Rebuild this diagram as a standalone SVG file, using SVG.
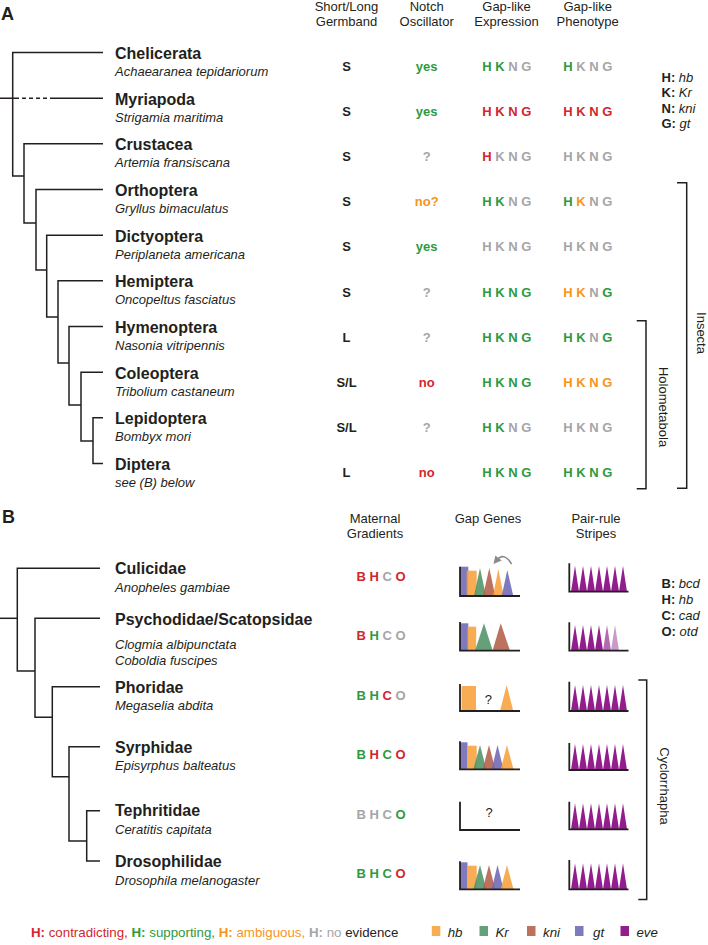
<svg xmlns="http://www.w3.org/2000/svg" width="708" height="945" viewBox="0 0 708 945">
<defs>
<style>
text{font-family:"Liberation Sans",Arial,sans-serif;fill:#231f20}
.lab{font-size:18px;font-weight:bold}
.name{font-size:16px;font-weight:bold}
.sp{font-size:13px;font-style:italic}
.hdr{font-size:13px;text-anchor:middle}
.val{font-size:13px;font-weight:bold;text-anchor:middle}
.leg{font-size:13px}
.bl{font-size:13.3px}
.b{font-weight:bold}
.i{font-style:italic;font-weight:normal}
.g{fill:#2e9a3e}.r{fill:#d2262c}.o{fill:#f7941d}.n{fill:#a5a5a8}
.ln{stroke:#231f20;stroke-width:1.5;fill:none}
.ax{stroke:#231f20;stroke-width:1.8;fill:none}
.hb{fill:#f7a23c;fill-opacity:.88}
.kr{fill:#4f9366;fill-opacity:.88}
.kni{fill:#b25e48;fill-opacity:.88}
.gt{fill:#6c68b4;fill-opacity:.88}
.eve{fill:#921e8e}
.eve2{fill:#b46ab2}
.eve3{fill:#c99bc8}
</style>
<marker id="ah" viewBox="0 0 10 10" refX="5" refY="5" markerWidth="5" markerHeight="5" orient="auto">
<path d="M0,0 L10,5 L0,10 Z" fill="#8a8a8c"/>
</marker>
<path id="str7" d="M571,0 l4,-26 l4,26 Z M579,0 l4,-26 l4,26 Z M587,0 l4,-26 l4,26 Z M595,0 l4,-26 l4,26 Z M603,0 l4,-26 l4,26 Z M611,0 l4,-26 l4,26 Z M619,0 l4,-26 l4,26 Z"/>
<g id="gap6">
<rect class="gt" x="460" y="-27" width="7.5" height="27"/>
<rect class="hb" x="467.3" y="-23.6" width="9.4" height="23.6"/>
<path class="kr" d="M473.3,0 L480,-24.3 L486.3,0 Z"/>
<path class="kni" d="M482.7,0 L489,-24.3 L495.3,0 Z"/>
<path class="gt" d="M491.7,0 L497.5,-24.3 L503.5,0 Z"/>
<path class="hb" d="M500.7,0 L507,-24.3 L513.5,0 Z"/>
<path class="ax" d="M460,-28 V0 H520"/>
</g>
</defs>

<!-- Panel A -->
<text class="lab" x="1" y="20">A</text>

<g id="headers-A">
<text class="hdr" x="346.5" y="10.5">Short/Long</text>
<text class="hdr" x="346.5" y="25.5">Germband</text>
<text class="hdr" x="426.7" y="10.5">Notch</text>
<text class="hdr" x="426.7" y="25.5">Oscillator</text>
<text class="hdr" x="506.5" y="10.5">Gap-like</text>
<text class="hdr" x="506.5" y="25.5">Expression</text>
<text class="hdr" x="587.7" y="10.5">Gap-like</text>
<text class="hdr" x="587.7" y="25.5">Phenotype</text>
</g>

<g id="connectors-A">
<path class="ln" d="M103,52.5 H12.7 V176 H24"/>
<path class="ln" d="M0,98.2 H15 M50,98.2 H103"/>
<path class="ln" d="M15,98.2 H50" stroke-dasharray="4,3"/>
<path class="ln" d="M103,143.8 H24 V223 H36"/>
<path class="ln" d="M103,189.5 H36 V270 H46.7"/>
<path class="ln" d="M103,235.2 H46.7 V317 H58"/>
<path class="ln" d="M103,280.8 H58 V363 H69"/>
<path class="ln" d="M103,326.5 H69 V405 H81"/>
<path class="ln" d="M103,372.2 H81 V441 H93"/>
<path class="ln" d="M103,417.8 H93 V463.5 H103"/>
</g>

<g id="chelicerata">
<text class="name" x="115" y="59">Chelicerata</text>
<text class="sp" x="115" y="76">Achaearanea tepidariorum</text>
<text class="val" x="346.5" y="70.5">S</text>
<text class="val g" x="426.7" y="70.5">yes</text>
<text class="val" x="506.7" y="70.5"><tspan class="g">H</tspan><tspan class="g"> K</tspan><tspan class="n"> N</tspan><tspan class="n"> G</tspan></text>
<text class="val" x="587.7" y="70.5"><tspan class="g">H</tspan><tspan class="n"> K</tspan><tspan class="n"> N</tspan><tspan class="n"> G</tspan></text>
</g>
<g id="myriapoda">
<text class="name" x="115" y="104.7">Myriapoda</text>
<text class="sp" x="115" y="121.7">Strigamia maritima</text>
<text class="val" x="346.5" y="115.5">S</text>
<text class="val g" x="426.7" y="115.5">yes</text>
<text class="val" x="506.7" y="115.5"><tspan class="r">H</tspan><tspan class="r"> K</tspan><tspan class="r"> N</tspan><tspan class="r"> G</tspan></text>
<text class="val" x="587.7" y="115.5"><tspan class="r">H</tspan><tspan class="r"> K</tspan><tspan class="r"> N</tspan><tspan class="r"> G</tspan></text>
</g>
<g id="crustacea">
<text class="name" x="115" y="150.3">Crustacea</text>
<text class="sp" x="115" y="167.3">Artemia fransiscana</text>
<text class="val" x="346.5" y="160.5">S</text>
<text class="val n" x="426.7" y="160.5">?</text>
<text class="val" x="506.7" y="160.5"><tspan class="r">H</tspan><tspan class="n"> K</tspan><tspan class="n"> N</tspan><tspan class="n"> G</tspan></text>
<text class="val" x="587.7" y="160.5"><tspan class="n">H</tspan><tspan class="n"> K</tspan><tspan class="n"> N</tspan><tspan class="n"> G</tspan></text>
</g>
<g id="orthoptera">
<text class="name" x="115" y="196">Orthoptera</text>
<text class="sp" x="115" y="213">Gryllus bimaculatus</text>
<text class="val" x="346.5" y="205.5">S</text>
<text class="val o" x="426.7" y="205.5">no?</text>
<text class="val" x="506.7" y="205.5"><tspan class="g">H</tspan><tspan class="g"> K</tspan><tspan class="n"> N</tspan><tspan class="n"> G</tspan></text>
<text class="val" x="587.7" y="205.5"><tspan class="g">H</tspan><tspan class="o"> K</tspan><tspan class="n"> N</tspan><tspan class="n"> G</tspan></text>
</g>
<g id="dictyoptera">
<text class="name" x="115" y="241.7">Dictyoptera</text>
<text class="sp" x="115" y="258.7">Periplaneta americana</text>
<text class="val" x="346.5" y="251">S</text>
<text class="val g" x="426.7" y="251">yes</text>
<text class="val" x="506.7" y="251"><tspan class="n">H</tspan><tspan class="n"> K</tspan><tspan class="n"> N</tspan><tspan class="n"> G</tspan></text>
<text class="val" x="587.7" y="251"><tspan class="n">H</tspan><tspan class="n"> K</tspan><tspan class="n"> N</tspan><tspan class="n"> G</tspan></text>
</g>
<g id="hemiptera">
<text class="name" x="115" y="287.3">Hemiptera</text>
<text class="sp" x="115" y="304.3">Oncopeltus fasciatus</text>
<text class="val" x="346.5" y="296.5">S</text>
<text class="val n" x="426.7" y="296.5">?</text>
<text class="val" x="506.7" y="296.5"><tspan class="g">H</tspan><tspan class="g"> K</tspan><tspan class="g"> N</tspan><tspan class="g"> G</tspan></text>
<text class="val" x="587.7" y="296.5"><tspan class="o">H</tspan><tspan class="o"> K</tspan><tspan class="n"> N</tspan><tspan class="g"> G</tspan></text>
</g>
<g id="hymenoptera">
<text class="name" x="115" y="333">Hymenoptera</text>
<text class="sp" x="115" y="350">Nasonia vitripennis</text>
<text class="val" x="346.5" y="341.5">L</text>
<text class="val n" x="426.7" y="341.5">?</text>
<text class="val" x="506.7" y="341.5"><tspan class="g">H</tspan><tspan class="g"> K</tspan><tspan class="g"> N</tspan><tspan class="g"> G</tspan></text>
<text class="val" x="587.7" y="341.5"><tspan class="g">H</tspan><tspan class="g"> K</tspan><tspan class="n"> N</tspan><tspan class="g"> G</tspan></text>
</g>
<g id="coleoptera">
<text class="name" x="115" y="378.7">Coleoptera</text>
<text class="sp" x="115" y="395.7">Tribolium castaneum</text>
<text class="val" x="346.5" y="386.5">S/L</text>
<text class="val r" x="426.7" y="386.5">no</text>
<text class="val" x="506.7" y="386.5"><tspan class="g">H</tspan><tspan class="g"> K</tspan><tspan class="g"> N</tspan><tspan class="g"> G</tspan></text>
<text class="val" x="587.7" y="386.5"><tspan class="o">H</tspan><tspan class="o"> K</tspan><tspan class="o"> N</tspan><tspan class="o"> G</tspan></text>
</g>
<g id="lepidoptera">
<text class="name" x="115" y="424.3">Lepidoptera</text>
<text class="sp" x="115" y="441.3">Bombyx mori</text>
<text class="val" x="346.5" y="432">S/L</text>
<text class="val n" x="426.7" y="432">?</text>
<text class="val" x="506.7" y="432"><tspan class="g">H</tspan><tspan class="g"> K</tspan><tspan class="n"> N</tspan><tspan class="n"> G</tspan></text>
<text class="val" x="587.7" y="432"><tspan class="n">H</tspan><tspan class="n"> K</tspan><tspan class="n"> N</tspan><tspan class="n"> G</tspan></text>
</g>
<g id="diptera">
<text class="name" x="115" y="470">Diptera</text>
<text class="sp" x="115" y="487">see (B) below</text>
<text class="val" x="346.5" y="477.3">L</text>
<text class="val r" x="426.7" y="477.3">no</text>
<text class="val" x="506.7" y="477.3"><tspan class="g">H</tspan><tspan class="g"> K</tspan><tspan class="g"> N</tspan><tspan class="g"> G</tspan></text>
<text class="val" x="587.7" y="477.3"><tspan class="g">H</tspan><tspan class="g"> K</tspan><tspan class="g"> N</tspan><tspan class="g"> G</tspan></text>
</g>

<g id="legend-A">
<text class="leg" x="661.5" y="81.5"><tspan class="b">H:</tspan><tspan class="i"> hb</tspan></text>
<text class="leg" x="661.5" y="97"><tspan class="b">K:</tspan><tspan class="i"> Kr</tspan></text>
<text class="leg" x="661.5" y="112.5"><tspan class="b">N:</tspan><tspan class="i"> kni</tspan></text>
<text class="leg" x="661.5" y="128"><tspan class="b">G:</tspan><tspan class="i"> gt</tspan></text>
</g>

<g id="insecta">
<path class="ln" d="M677,182.7 H686.7 V488.3 H677"/>
<text class="leg" text-anchor="middle" transform="translate(697,333) rotate(90)">Insecta</text>
</g>
<g id="holometabola">
<path class="ln" d="M636.7,320.7 H646 V488.8 H636.7"/>
<text class="leg" text-anchor="middle" transform="translate(658.5,407) rotate(90)">Holometabola</text>
</g>

<!-- Panel B -->
<text class="lab" x="2" y="523.3">B</text>

<g id="headers-B">
<text class="hdr" x="375" y="522.5">Maternal</text>
<text class="hdr" x="375" y="537.5">Gradients</text>
<text class="hdr" x="488" y="522.5">Gap Genes</text>
<text class="hdr" x="596" y="522.5">Pair-rule</text>
<text class="hdr" x="596" y="537.5">Stripes</text>
</g>

<g id="connectors-B">
<path class="ln" d="M100,568.3 H17.3 V671 H35"/>
<path class="ln" d="M0,618.3 H17.3"/>
<path class="ln" d="M100,618.3 H35 V717.3 H52.3"/>
<path class="ln" d="M100,686.7 H52.3 V776.7 H69"/>
<path class="ln" d="M100,746.7 H69 V841 H86.7"/>
<path class="ln" d="M100,810.7 H86.7 V861 H100"/>
</g>

<g id="culicidae">
<text class="name" x="115" y="574">Culicidae</text>
<text class="sp" x="115" y="592">Anopheles gambiae</text>
<text class="val" x="381" y="580.7"><tspan class="r">B</tspan><tspan class="r"> H</tspan><tspan class="n"> C</tspan><tspan class="r"> O</tspan></text>
<g transform="translate(0,596)">
<rect class="gt" x="460" y="-29.3" width="8.3" height="29.3"/>
<rect class="hb" x="466.7" y="-25.3" width="10" height="25.3"/>
<path class="kr" d="M474,0 L480,-28 L486,0 Z"/>
<path class="kni" d="M483,0 L489.3,-28 L495.3,0 Z"/>
<path class="hb" d="M493,0 L498.3,-27 L503.7,0 Z"/>
<path class="gt" d="M501.7,0 L507.3,-26 L513.3,0 Z"/>
<path class="ax" d="M460,-29.3 V0 H520"/>
</g>
<path d="M511.5,564 Q504,551 496,561" fill="none" stroke="#8a8a8c" stroke-width="1.6" marker-end="url(#ah)"/>
<g transform="translate(0,591.7)">
<use href="#str7" class="eve"/>
<path class="ax" d="M569.3,-28.4 V0 H628.5"/>
</g>
</g>

<g id="psychodidae">
<text class="name" x="115" y="625">Psychodidae/Scatopsidae</text>
<text class="sp" x="115" y="648.5">Clogmia albipunctata</text>
<text class="sp" x="115" y="665">Coboldia fuscipes</text>
<text class="val" x="381" y="640"><tspan class="r">B</tspan><tspan class="g"> H</tspan><tspan class="n"> C</tspan><tspan class="n"> O</tspan></text>
<g transform="translate(0,650.7)">
<rect class="gt" x="460" y="-27.4" width="8.3" height="27.4"/>
<rect class="hb" x="467.5" y="-24" width="8.7" height="24"/>
<path class="kr" d="M475,0 L484,-27.4 L492.7,0 Z"/>
<path class="kni" d="M492.5,0 L500.7,-27.4 L510,0 Z"/>
<path class="ax" d="M460,-28.7 V0 H520"/>
</g>
<g transform="translate(0,650.7)">
<path class="eve" d="M571,0 l4,-25.7 l4,25.7 Z M579,0 l4,-25.7 l4,25.7 Z M587,0 l4,-25.7 l4,25.7 Z M595,0 l4,-25.7 l4,25.7 Z"/>
<path class="eve2" d="M603,0 l4,-25.7 l4,25.7 Z"/>
<path class="eve3" d="M611,0 l4,-25.7 l4,25.7 Z"/>
<path class="ax" d="M569.3,-28.4 V0 H628.5"/>
</g>
</g>

<g id="phoridae">
<text class="name" x="115" y="693">Phoridae</text>
<text class="sp" x="115" y="710">Megaselia abdita</text>
<text class="val" x="381" y="700"><tspan class="g">B</tspan><tspan class="g"> H</tspan><tspan class="r"> C</tspan><tspan class="n"> O</tspan></text>
<g transform="translate(0,711)">
<rect class="hb" x="461.5" y="-25" width="14.5" height="25"/>
<path class="hb" d="M500,0 L506.7,-26 L513.3,0 Z"/>
<path class="ax" d="M460,-27 V0 H520"/>
</g>
<text class="hdr" x="488.3" y="703.5">?</text>
<g transform="translate(0,711)">
<use href="#str7" class="eve"/>
<path class="ax" d="M569.3,-29.3 V0 H628.5"/>
</g>
</g>

<g id="syrphidae">
<text class="name" x="115" y="753">Syrphidae</text>
<text class="sp" x="115" y="770">Episyrphus balteatus</text>
<text class="val" x="381" y="759"><tspan class="g">B</tspan><tspan class="r"> H</tspan><tspan class="g"> C</tspan><tspan class="r"> O</tspan></text>
<use href="#gap6" transform="translate(0,769.3)"/>
<g transform="translate(0,770)">
<use href="#str7" class="eve"/>
<path class="ax" d="M569.3,-27 V0 H628.5"/>
</g>
</g>

<g id="tephritidae">
<text class="name" x="115" y="816">Tephritidae</text>
<text class="sp" x="115" y="834">Ceratitis capitata</text>
<text class="val" x="381" y="819"><tspan class="n">B</tspan><tspan class="n"> H</tspan><tspan class="n"> C</tspan><tspan class="g"> O</tspan></text>
<path class="ax" d="M460,801.7 V830 H520"/>
<text class="hdr" x="489" y="817">?</text>
<g transform="translate(0,829.3)">
<use href="#str7" class="eve"/>
<path class="ax" d="M569.3,-27.6 V0 H628.5"/>
</g>
</g>

<g id="drosophilidae">
<text class="name" x="115" y="867">Drosophilidae</text>
<text class="sp" x="115" y="885">Drosophila melanogaster</text>
<text class="val" x="381" y="878"><tspan class="g">B</tspan><tspan class="g"> H</tspan><tspan class="g"> C</tspan><tspan class="r"> O</tspan></text>
<use href="#gap6" transform="translate(0,889.3)"/>
<g transform="translate(0,889.3)">
<use href="#str7" class="eve"/>
<path class="ax" d="M569.3,-29.3 V0 H628.5"/>
</g>
</g>

<g id="legend-B">
<text class="leg" x="661.5" y="588"><tspan class="b">B:</tspan><tspan class="i"> bcd</tspan></text>
<text class="leg" x="661.5" y="604"><tspan class="b">H:</tspan><tspan class="i"> hb</tspan></text>
<text class="leg" x="661.5" y="620"><tspan class="b">C:</tspan><tspan class="i"> cad</tspan></text>
<text class="leg" x="661.5" y="635.5"><tspan class="b">O:</tspan><tspan class="i"> otd</tspan></text>
</g>

<g id="cyclorrhapha">
<path class="ln" d="M638.3,680 H646.7 V899.5 H638.3"/>
<text class="leg" text-anchor="middle" transform="translate(659.5,786) rotate(90)">Cyclorrhapha</text>
</g>

<g id="legend-bottom">
<text class="bl" x="31" y="937"><tspan class="r b">H:</tspan><tspan class="r"> contradicting, </tspan><tspan class="g b">H:</tspan><tspan class="g"> supporting, </tspan><tspan class="o b">H:</tspan><tspan class="o"> ambiguous, </tspan><tspan class="n b">H:</tspan><tspan class="n"> no</tspan><tspan> evidence</tspan></text>
<rect class="hb" x="431.8" y="926" width="8.5" height="10"/>
<text class="bl i" x="447.7" y="937">hb</text>
<rect class="kr" x="479.5" y="926" width="8.5" height="10"/>
<text class="bl i" x="495.5" y="937">Kr</text>
<rect class="kni" x="527" y="926" width="8.5" height="10"/>
<text class="bl i" x="543" y="937">kni</text>
<rect class="gt" x="575" y="926" width="8.5" height="10"/>
<text class="bl i" x="593" y="937">gt</text>
<rect class="eve" x="620.5" y="926" width="8.5" height="10"/>
<text class="bl i" x="636.4" y="937">eve</text>
</g>
</svg>
